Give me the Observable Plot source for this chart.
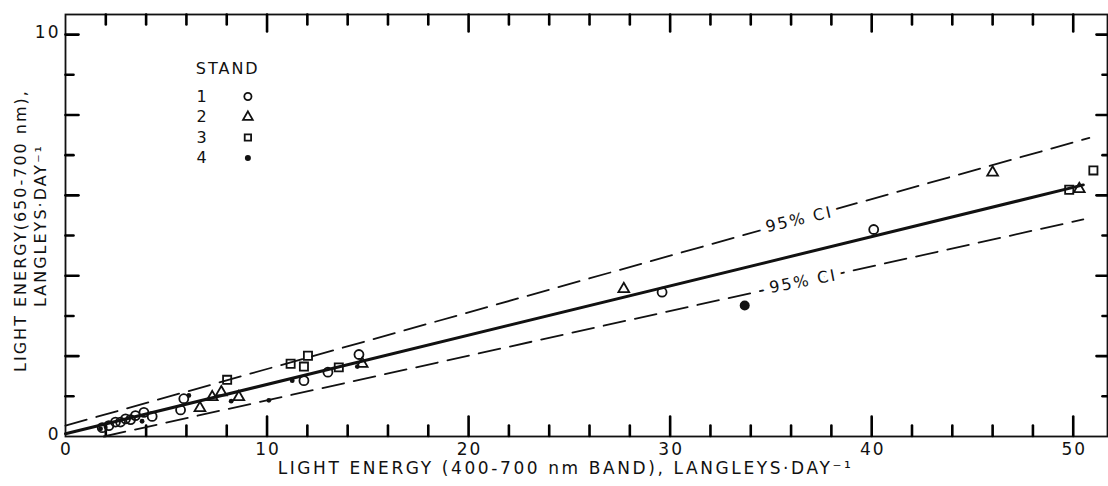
<!DOCTYPE html>
<html><head><meta charset="utf-8">
<script src="https://cdn.jsdelivr.net/npm/d3@7"></script>
<script src="https://cdn.jsdelivr.net/npm/@observablehq/plot@0.6"></script>
<style>
html,body{margin:0;padding:0;background:#fff;}
#chart svg text{letter-spacing:2px;}
#chart svg g.title text{letter-spacing:2.6px;}
</style></head><body><div id="chart"></div>
<script>
// ---- data ----
const stand1X = [1.82,2.15,2.48,2.73,2.98,3.23,3.47,3.89,4.30,5.71,5.87,11.83,13.02,14.56,29.6,40.1];
const stand1Y = [0.22,0.27,0.36,0.36,0.44,0.42,0.52,0.60,0.50,0.66,0.94,1.39,1.60,2.04,3.59,5.15];
const stand2X = [6.67,7.28,7.73,8.60,14.72,27.7,46.0,50.3];
const stand2Y = [0.71,0.98,1.10,0.98,1.81,3.67,6.57,6.16];
const stand3X = [8.02,11.17,11.83,12.03,13.56,49.8,51.0];
const stand3Y = [1.41,1.81,1.74,2.01,1.72,6.14,6.62];
const stand4X = [1.74,3.80,6.12,8.22,10.09,11.25,14.48];
const stand4Y = [0.19,0.38,1.02,0.88,0.90,1.39,1.74];
const stand4BigX = [33.7];
const stand4BigY = [3.26];
const fitX = [0, 50.5];
const fitY = [0.07, 6.26];
const ciUpperX = [0, 50.8];
const ciUpperY = [0.27, 7.43];
const ciLowerX = [1.9, 50.5];
const ciLowerY = [0, 5.40];
const xTickLabels = [0, 10, 20, 30, 40, 50];
const yTickLabels = [0, 10];
const legendStands = ["1", "2", "3", "4"];
const legendSymbols = ["circle", "triangle", "square", "dot"];
const xTitle = "LIGHT ENERGY (400-700 nm BAND), LANGLEYS·DAY⁻¹";
const yTitle1 = "LIGHT ENERGY(650-700 nm),";
const yTitle2 = "LANGLEYS·DAY⁻¹";
const ciLabel = "95% CI";

// ---- build tables ----
const zip = (xs, ys) => xs.map((x, i) => ({x, y: ys[i]}));
const s1 = zip(stand1X, stand1Y), s2 = zip(stand2X, stand2Y), s3 = zip(stand3X, stand3Y);
const s4 = zip(stand4X, stand4Y), s4b = zip(stand4BigX, stand4BigY);
const fit = zip(fitX, fitY), up = zip(ciUpperX, ciUpperY), lo = zip(ciLowerX, ciLowerY);

const W = 1108, H = 486, ML = 65, MR = 1, MT = 14, MB = 50;
const XMAX = 51.7, YMAX = 10.5;
const kx = XMAX / (W - ML - MR), ky = YMAX / (H - MT - MB); // data units per pixel
const xMajor = [10, 20, 30, 40, 50];
const xMinor = [2, 4, 6, 8, 12, 14, 16, 18, 22, 24, 26, 28, 32, 34, 36, 38, 42, 44, 46, 48];
const yMajor = [2, 4, 6, 8, 10];
const yMinor = [1, 3, 5, 7, 9];
const lerp = (a, t) => a[0].y + (a[1].y - a[0].y) * (t - a[0].x) / (a[1].x - a[0].x);
const upLabelX = 36.4, loLabelX = 36.6;

// tick segments as two-point polylines grouped by id (inward pointing, lengths in px)
const tickPts = [];
let tid = 0;
const seg = (xa, ya, xb, yb) => { tickPts.push({id: tid, x: xa, y: ya}, {id: tid, x: xb, y: yb}); tid++; };
const y0 = 0.5 * ky; // start just above the bottom edge
xMajor.forEach(v => { seg(v, y0, v, 20 * ky); seg(v, YMAX, v, YMAX - 17 * ky); });
xMinor.forEach(v => { seg(v, y0, v, 11 * ky); seg(v, YMAX, v, YMAX - 10 * ky); });
yMajor.forEach(v => { seg(0, v, 13 * kx, v); seg(XMAX, v, XMAX - 11 * kx, v); });
yMinor.forEach(v => { seg(0, v, 8 * kx, v); seg(XMAX, v, XMAX - 5 * kx, v); });

// legend placement (data units)
const legNumX = 6.8, legSymX = 9.05, legTopY = 8.46, legStep = 0.51;
const legRows = legendStands.map((s, i) => ({s, sym: legendSymbols[i], y: legTopY - i * legStep}));

const font = "DejaVu Sans, sans-serif";
const ink = "#111";

const chart = Plot.plot({
  width: W, height: H,
  marginLeft: ML, marginRight: MR, marginTop: MT, marginBottom: MB,
  style: {fontFamily: font, background: "#fff", color: ink},
  x: {domain: [0, XMAX], axis: null},
  y: {domain: [0, YMAX], axis: null},
  marks: [
    Plot.frame({stroke: ink, strokeWidth: 1.8}),
    Plot.line(tickPts, {x: "x", y: "y", z: "id", stroke: "#000", strokeWidth: 2.6}),
    // regression and CI lines
    Plot.line(up, {x: "x", y: "y", stroke: ink, strokeWidth: 1.8, strokeDasharray: "22,10"}),
    Plot.line(lo, {x: "x", y: "y", stroke: ink, strokeWidth: 1.8, strokeDasharray: "22,10"}),
    Plot.line(fit, {x: "x", y: "y", stroke: ink, strokeWidth: 3}),
    // CI labels with white halo to break the dashes
    Plot.text([ciLabel], {x: upLabelX, y: lerp(up, upLabelX), text: d => d, rotate: -13, fontSize: 16, fill: ink, stroke: "white", strokeWidth: 15}),
    Plot.text([ciLabel], {x: loLabelX, y: lerp(lo, loLabelX), text: d => d, rotate: -11, fontSize: 16, fill: ink, stroke: "white", strokeWidth: 15}),
    // points
    Plot.dot(s1, {x: "x", y: "y", symbol: "circle", r: 4.5, stroke: ink, strokeWidth: 1.8, fill: "none"}),
    Plot.dot(s2, {x: "x", y: "y", symbol: "triangle", r: 4, stroke: ink, strokeWidth: 1.8, fill: "none"}),
    Plot.dot(s3, {x: "x", y: "y", symbol: "square", r: 4.6, stroke: ink, strokeWidth: 1.8, fill: "none"}),
    Plot.dot(s4, {x: "x", y: "y", r: 2.4, fill: ink, stroke: "none"}),
    Plot.dot(s4b, {x: "x", y: "y", r: 5, fill: ink, stroke: "none"}),
    // legend
    Plot.text(["STAND"], {x: legNumX + 1.1, y: legTopY + 0.69, text: d => d, fontSize: 16, fill: ink, dx: 3}),
    Plot.text(legRows, {x: legNumX, y: "y", text: "s", fontSize: 16, fill: ink}),
    Plot.dot(legRows.filter(d => d.sym !== "dot"), {x: legSymX, y: "y", symbol: "sym", r: 3.6, stroke: ink, strokeWidth: 1.8, fill: "none"}),
    Plot.dot(legRows.filter(d => d.sym === "dot"), {x: legSymX, y: "y", r: 3, fill: ink}),
    // tick labels
    Plot.text(xTickLabels, {x: d => d, y: 0, dy: 13, dx: 1, text: d => String(d), fontSize: 17, fill: ink}),
    Plot.text(yTickLabels, {x: 0, y: d => d, dx: -5, dy: -2, textAnchor: "end", text: d => String(d), fontSize: 17, fill: ink}),
    // axis titles
    Plot.text([xTitle], {frameAnchor: "bottom", lineAnchor: "middle", textAnchor: "middle", dy: 32, dx: -21, text: d => d, fontSize: 17, fill: ink, className: "title"}),
    Plot.text([yTitle1], {frameAnchor: "left", lineAnchor: "middle", textAnchor: "middle", dx: -45, dy: 5, rotate: -90, text: d => d, fontSize: 16, fill: ink}),
    Plot.text([yTitle2], {frameAnchor: "left", lineAnchor: "middle", textAnchor: "middle", dx: -25, rotate: -90, text: d => d, fontSize: 16, fill: ink})
  ]
});
document.getElementById("chart").appendChild(chart);
</script></body></html>
